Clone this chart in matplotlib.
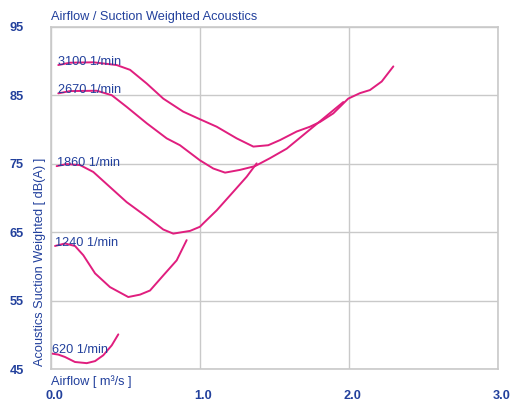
import matplotlib.pyplot as plt
from matplotlib.transforms import ScaledTranslation

plt.rcParams['font.family'] = ['Liberation Sans', 'DejaVu Sans']

blue = '#22409c'
pink = '#e01e7e'
grey = '#c9c9c9'

speeds = ['3100 1/min', '2670 1/min', '1860 1/min', '1240 1/min', '620 1/min']

# airflow [m3/s] and weighted noise [dB(A)]
x_3100 = [0.049, 0.128, 0.284, 0.441, 0.531, 0.643, 0.754, 0.888, 0.989, 1.113,
          1.247, 1.359, 1.459, 1.538, 1.650, 1.739, 1.807, 1.896, 1.996, 2.075,
          2.142, 2.221, 2.299]
y_3100 = [89.4, 89.74, 89.8, 89.4, 88.7, 86.7, 84.5, 82.6, 81.6, 80.4,
          78.7, 77.5, 77.7, 78.45, 79.7, 80.4, 81.1, 82.35, 84.5, 85.3,
          85.75, 87.0, 89.2]

x_2670 = [0.049, 0.128, 0.307, 0.408, 0.508, 0.643, 0.777, 0.866, 1.0, 1.09,
          1.169, 1.269, 1.370, 1.470, 1.583, 1.762, 1.896, 1.963]
y_2670 = [85.27, 85.6, 85.65, 85.0, 83.3, 80.9, 78.7, 77.7, 75.5, 74.3,
          73.7, 74.1, 74.65, 75.8, 77.2, 80.4, 82.8, 84.0]

x_1860 = [0.038, 0.105, 0.195, 0.284, 0.396, 0.508, 0.643, 0.754, 0.821, 0.934,
          1.0, 1.023, 1.113, 1.224, 1.314, 1.381]
y_1860 = [74.65, 74.95, 74.8, 73.8, 71.6, 69.4, 67.25, 65.4, 64.8, 65.2,
          65.8, 66.3, 68.2, 70.9, 73.1, 75.05]

x_1240 = [0.027, 0.094, 0.161, 0.217, 0.296, 0.396, 0.519, 0.598, 0.665, 0.754,
          0.844, 0.911]
y_1240 = [63.0, 63.36, 63.0, 61.65, 59.0, 57.0, 55.55, 55.9, 56.5, 58.7,
          60.9, 63.85]

x_620 = [0.005, 0.049, 0.094, 0.161, 0.240, 0.296, 0.351, 0.408, 0.452]
y_620 = [47.3, 47.15, 46.8, 46.07, 45.9, 46.2, 47.05, 48.5, 50.1]

curves = [(x_3100, y_3100), (x_2670, y_2670), (x_1860, y_1860),
          (x_1240, y_1240), (x_620, y_620)]

xticks = [0.0, 1.0, 2.0, 3.0]
yticks = [45, 55, 65, 75, 85, 95]

fig = plt.figure(figsize=(5.12, 4.01), dpi=100)
ax = fig.add_axes([0.0996, 0.079, 0.8725, 0.8545])

for (xs, ys), name in zip(curves, speeds):
    ax.plot(xs, ys, color=pink, lw=1.4, solid_joinstyle='round',
            solid_capstyle='round')
    ax.text(xs[0], ys[0] + 0.5, name, color=blue, fontsize=9.2,
            ha='left', va='center')

ax.set_xlim(0, 3)
ax.set_ylim(45, 95)
ax.set_xticks(xticks)
ax.set_yticks(yticks)
ax.set_xticklabels(['%.1f' % v for v in xticks])
ax.set_yticklabels([str(v) for v in yticks])
ax.tick_params(length=0, labelcolor=blue, labelsize=9.2)
ax.tick_params(axis='y', pad=19.5)
ax.tick_params(axis='x', pad=15)
shift = ScaledTranslation(3.5 / 100, 0, fig.dpi_scale_trans)
for lab in ax.get_xticklabels():
    lab.set_transform(lab.get_transform() + shift)
for lab in ax.get_xticklabels() + ax.get_yticklabels():
    lab.set_fontweight('bold')
ax.grid(True, color=grey, lw=1)
for s in ax.spines.values():
    s.set_color(grey)
    s.set_linewidth(1.2)

fig.text(0.0996, 0.957, 'Airflow / Suction Weighted Acoustics', color=blue,
         fontsize=9.2, ha='left', va='center')
fig.text(0.0996, 0.049, 'Airflow [ m³/s ]', color=blue, fontsize=9.2,
         ha='left', va='center')
fig.text(0.079, 0.0885, 'Acoustics Suction Weighted [ dB(A) ]', color=blue,
         fontsize=9.2, rotation=90, ha='center', va='bottom')

fig.savefig('out.png', dpi=100)
